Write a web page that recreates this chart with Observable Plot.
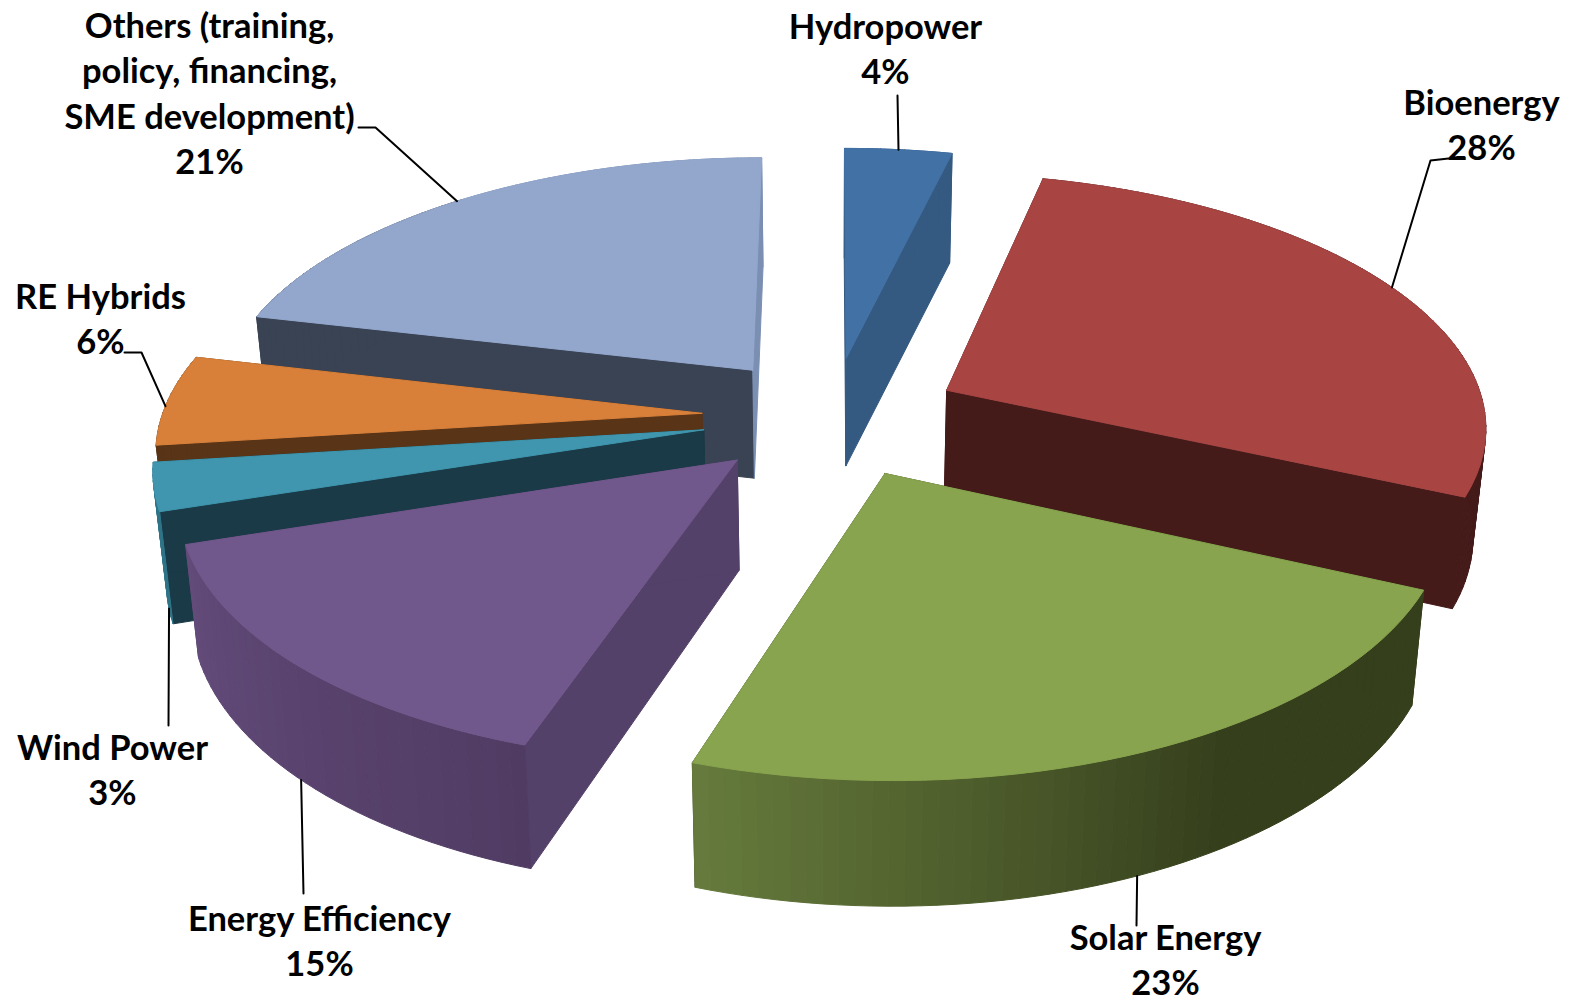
<!DOCTYPE html>
<html>
<head>
<meta charset="utf-8">
<script src="https://cdn.jsdelivr.net/npm/d3@7"></script>
<script src="https://cdn.jsdelivr.net/npm/@observablehq/plot@0.6"></script>
<style>html,body{margin:0;padding:0;background:#fff}svg{display:block}</style>
</head>
<body>
<div id="chart"></div>
<script>
// ---- data ----
const categories = ["Hydropower","Bioenergy","Solar Energy","Energy Efficiency","Wind Power","RE Hybrids","Others (training, policy, financing, SME development)"];
const shares = [3.7,28.1,23.3,14.9,3,5.7,21.3];
const labelLines = [["Hydropower"],["Bioenergy"],["Solar Energy"],["Energy Efficiency"],["Wind Power"],["RE Hybrids"],["Others (training,","policy, financing,","SME development)"]];

// ---- styles ----
const topColors  = ["#4271a6","#a84543","#88a44e","#71588c","#3f96ae","#d8803a","#93a7cd"];
const cutColors  = ["#355a82","#451b1a","#364120","#54416a","#193a46","#593417","#3a4354"];
const endColors  = ["#355a82","#451b1a","#364120","#54416a","#193a46","#593417","#7b8fb3"];
const rimFrom    = ["#355a82","#451b1a","#353f1c","#503c63","#2f7488","#593417","#3a4354"];
const rimTo      = ["#355a82","#451b1a","#667b3c","#634b7a","#2f7488","#593417","#7b8fb3"];
const rimBegin   = [0,0,0.4,0,0,0,0.5];
const rimHard    = [0,0,0,0,0,0,1];
const paintOrder = [0,1,6,5,4,3,2];

// ---- 3D pie projection ----
const cx=831, cy=416, R=540, explode=130, tilt=0.465, persp=0.00024, taper=0.02;
const plane = (X,Y)=>{const w=1/(1-persp*Y);return {x:cx+X*w,y:cy+tilt*Y*w,Y};};
const lower = p=>({x:cx+(p.x-cx)*(1-taper),y:p.y+109+0.012*p.Y+0.00002*p.Y*p.Y,Y:p.Y});
const rad = d=>d*Math.PI/180;

let acc=0;
const slices = shares.map((v,i)=>{
  const a0=acc/100*360; acc+=v; const a1=acc/100*360; const mid=(a0+a1)/2;
  const ox=explode*Math.sin(rad(mid)), oy=-explode*Math.cos(rad(mid));
  const rim=a=>plane(ox+R*Math.sin(rad(a)),oy-R*Math.cos(rad(a)));
  return {i,a0,a1,apex:plane(ox,oy),rim};
});

const rows=[];
let fid=0;
const face=(pts,color)=>{fid++;[...pts,pts[0]].forEach(p=>rows.push({id:fid,x:p.x,y:p.y,color}));};
for(const i of paintOrder){
  const s=slices[i];
  const A=s.apex,B=s.rim(s.a0),C=s.rim(s.a1);
  face([A,B,lower(B),lower(A)],cutColors[i]);
  face([A,C,lower(C),lower(A)],endColors[i]);
  const mix=d3.interpolateRgb(rimFrom[i],rimTo[i]);
  const step=1.5, n=Math.max(1,Math.ceil((s.a1-s.a0)/step));
  for(let k=0;k<n;k++){
    const u=s.a0+(s.a1-s.a0)*k/n, v=s.a0+(s.a1-s.a0)*(k+1)/n;
    const P=s.rim(u),Q=s.rim(v);
    let t=Math.max(0,((k+.5)/n-rimBegin[i])/(1-rimBegin[i]));
    if(rimHard[i]) t=t>0?1:0;
    face([P,Q,lower(Q),lower(P)],d3.color(mix(t)).formatHex());
  }
  const arc=d3.range(0,41).map(k=>s.rim(s.a0+(s.a1-s.a0)*k/40));
  face([A,...arc],topColors[i]);
}

// ---- annotation layout ----
const labelAt = [[885,27],[1481,103],[1165,938],[319,919],[112,748],[100,297],[209,26]];
const lineGap = 45.6;
const leaderFrac = [0.5,0.497,0.503,0.515,0.3,0.43,0.49];
const leaderDrop = [0,0,1,1,1,0,0];
const leaderOut = [[[897,95]],[[1430,160],[1448,158]],[[1136,925]],[[303,893]],[[168,725]],[[141,352],[124,352]],[[375,127],[358,127]]];

const textRows=[];
labelLines.forEach((lines,i)=>{
  const [x,y]=labelAt[i];
  [...lines,Math.round(shares[i])+"%"].forEach((t,j)=>textRows.push({x,y:y+j*lineGap,t}));
});
const leaderRows=[];
leaderOut.forEach((out,i)=>{
  const s=slices[i];
  let p=s.rim(s.a0+(s.a1-s.a0)*leaderFrac[i]);
  if(leaderDrop[i]) p=lower(p);
  [p,...out.map(([x,y])=>({x,y}))].forEach(q=>leaderRows.push({i,x:q.x,y:q.y}));
});

const W=1571,H=1002;
const chart=Plot.plot({
  width:W,height:H,margin:0,
  x:{domain:[0,W],range:[0,W],axis:null},
  y:{domain:[0,H],range:[0,H],axis:null},
  color:{type:"identity"},
  style:{background:"#fff"},
  marks:[
    Plot.line(rows,{x:"x",y:"y",z:"id",fill:"color",stroke:"color",strokeWidth:1,curve:"linear"}),
    Plot.line(leaderRows,{x:"x",y:"y",z:"i",stroke:"#000",strokeWidth:2,curve:"linear"}),
    Plot.text(textRows,{x:"x",y:"y",text:"t",fill:"#000",fontFamily:"Lato",fontWeight:700,fontSize:34.5,textAnchor:"middle",lineAnchor:"middle"})
  ]
});
document.getElementById("chart").appendChild(chart);
</script>
</body>
</html>
